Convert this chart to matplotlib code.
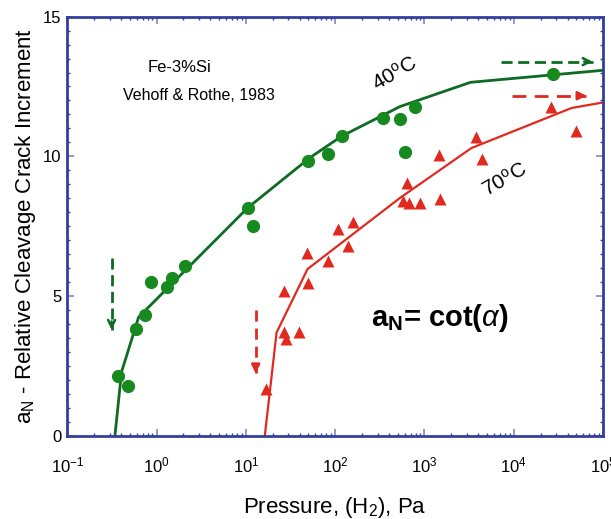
import numpy as np
import matplotlib.pyplot as plt
from matplotlib.ticker import LogLocator, MultipleLocator, NullFormatter

plt.rcParams['font.family'] = ['Liberation Sans', 'DejaVu Sans']
plt.rcParams['mathtext.fontset'] = 'custom'
plt.rcParams['mathtext.rm'] = 'Liberation Sans'
plt.rcParams['mathtext.it'] = 'Liberation Sans:italic'
plt.rcParams['mathtext.bf'] = 'Liberation Sans:bold'

# 40 C measurements (pressure in Pa, relative crack increment)
p40 = [0.372, 0.474, 0.591, 0.746, 0.865, 1.30, 1.49, 2.09, 10.6, 12.1,
       49.9, 82.2, 118, 344, 530, 780, 603, 27200]
a40 = [2.16, 1.77, 3.83, 4.32, 5.49, 5.32, 5.65, 6.09, 8.15, 7.52,
       9.82, 10.10, 10.74, 11.37, 11.35, 11.77, 10.14, 12.93]
fit40_p = [0.342, 0.406, 0.63, 10.5, 52, 118, 530, 3280, 1e5]
fit40_a = [0.0, 2.29, 4.25, 8.16, 9.95, 10.72, 11.78, 12.65, 13.08]

# 70 C measurements
p70 = [16.8, 26.7, 27.9, 39.3, 26.7, 49.1, 47.9, 83.5, 138, 108, 159,
       630, 577, 668, 888, 1486, 1460, 3760, 4355, 26000, 50400]
a70 = [1.68, 3.72, 3.47, 3.72, 5.19, 5.48, 6.55, 6.27, 6.78, 7.40, 7.64,
       9.05, 8.39, 8.33, 8.33, 8.49, 10.04, 10.71, 9.89, 11.75, 10.92]
fit70_p = [16.3, 22.1, 49.1, 530, 3365, 44300, 1e5]
fit70_a = [0.0, 3.70, 5.97, 8.51, 10.30, 11.73, 11.93]

# dashed arrows: (x_start, y_start, x_end, y_end)
arrow40_down = (0.314, 6.36, 0.314, 3.80)
arrow70_down = (12.9, 4.51, 12.9, 2.24)
arrow40_right = (7290, 13.39, 76200, 13.39)
arrow70_right = (9440, 12.17, 65200, 12.17)

green_line = '#0f6b23'
green_dot = '#16891f'
red = '#e02a20'
blue = '#33409a'

fig = plt.figure(figsize=(6.11, 5.19), dpi=100)
ax = fig.add_axes([0.110, 0.160, 0.877, 0.808])

ax.plot(fit40_p, fit40_a, color=green_line, lw=2, zorder=2)
ax.plot(p40, a40, 'o', color=green_dot, ms=9.5, mec='none', zorder=3)
ax.plot(fit70_p, fit70_a, color=red, lw=1.6, zorder=2)
ax.plot(p70, a70, '^', color=red, ms=9, mec='none', zorder=3)


def dashed_arrow(ax, arr, color, head, dashes):
    x0, y0, x1, y1 = arr
    ax.plot([x0, x1], [y0, y1], color=color, lw=2, dashes=dashes,
            solid_capstyle='butt', zorder=2)
    if x0 == x1:
        off = (0, 6)
    else:
        off = (-6, 0)
    ax.annotate('', xy=(x1, y1), xytext=off, textcoords='offset points',
                arrowprops=dict(arrowstyle=head, color=color, lw=1.8,
                                shrinkA=0, shrinkB=0))


dashed_arrow(ax, arrow40_down, green_line, '->,head_length=0.5,head_width=0.25', (4, 2))
dashed_arrow(ax, arrow70_down, red, '-|>,head_length=0.5,head_width=0.25', (4, 2.5))
dashed_arrow(ax, arrow40_right, green_line, '->,head_length=0.5,head_width=0.25', (4, 2))
dashed_arrow(ax, arrow70_right, red, '-|>,head_length=0.5,head_width=0.25', (5, 3))

ax.set_xscale('log')
ax.set_xlim(0.1, 1e5)
ax.set_ylim(0, 15)
ax.xaxis.set_major_locator(LogLocator(base=10, numticks=10))
ax.xaxis.set_minor_locator(LogLocator(base=10, subs=np.arange(2, 10), numticks=20))
ax.xaxis.set_minor_formatter(NullFormatter())
ax.yaxis.set_major_locator(MultipleLocator(5))
ax.yaxis.set_minor_locator(MultipleLocator(0.5))

for s in ax.spines.values():
    s.set_color(blue)
    s.set_linewidth(2)
ax.tick_params(which='both', direction='in', top=True, right=True,
               color=blue, labelsize=12)
ax.tick_params(which='major', length=5, width=1.2, color='#7f86cc')
ax.tick_params(which='minor', length=2.5, width=1)
ax.tick_params(axis='x', which='major', pad=14)
ax.tick_params(axis='y', which='major', pad=4)

ax.set_xlabel('Pressure, (H$_{2}$), Pa', fontsize=16, labelpad=14)
ax.set_ylabel(r'a$_{\rm N}$ - Relative Cleavage Crack Increment', fontsize=16, labelpad=4)

ax.text(0.210, 0.878, 'Fe-3%Si', transform=ax.transAxes, fontsize=12,
        ha='center', va='center')
ax.text(0.246, 0.813, 'Vehoff & Rothe, 1983', transform=ax.transAxes,
        fontsize=11.5, ha='center', va='center')
ax.text(0.611, 0.863, r'40$^{\rm o}$C', transform=ax.transAxes, fontsize=15,
        ha='center', va='center', rotation=30)
ax.text(0.817, 0.611, r'70$^{\rm o}$C', transform=ax.transAxes, fontsize=15,
        ha='center', va='center', rotation=30)
ax.text(0.695, 0.281, r'a$_{\mathbf{N}}$= cot($\alpha$)', transform=ax.transAxes,
        fontsize=21, fontweight='bold', ha='center', va='center')

fig.savefig('out.png', dpi=100)
